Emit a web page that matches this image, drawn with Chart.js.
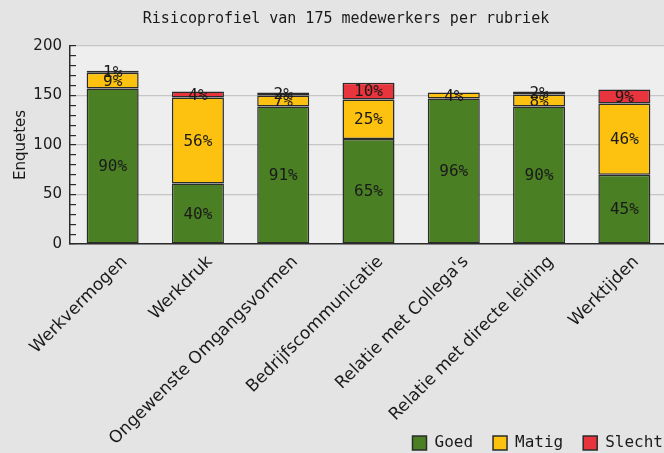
<!DOCTYPE html>
<html>
<head>
<meta charset="utf-8">
<script src="https://cdn.jsdelivr.net/npm/chart.js@4"></script>
<style>
html,body{margin:0;padding:0;background:#e4e4e4;overflow:hidden;}
#wrap{width:692px;height:453px;}
</style>
</head>
<body>
<div id="wrap"><canvas id="c" width="692" height="453"></canvas></div>
<script>
const categories = ["Werkvermogen","Werkdruk","Ongewenste Omgangsvormen","Bedrijfscommunicatie","Relatie met Collega's","Relatie met directe leiding","Werktijden"];
const goed   = [157, 61, 139, 106, 147, 139, 70];
const matig  = [16, 87, 11, 40, 6, 12, 72];
const slecht = [2, 6, 3, 17, 0, 3, 14];
const seriesNames = ["Goed","Matig","Slecht"];
const yTicks = [0, 50, 100, 150, 200];

const MONO = "'DejaVu Sans Mono', 'Liberation Mono', monospace";
const SANS = "'DejaVu Sans', 'Liberation Sans', sans-serif";

const totals = categories.map((_, i) => goed[i] + matig[i] + slecht[i]);

const bgPlugin = {
  id: 'bg',
  beforeDraw(chart) {
    const {ctx, chartArea: a} = chart;
    ctx.save();
    ctx.fillStyle = '#e4e4e4';
    ctx.fillRect(0, 0, chart.width, chart.height);
    ctx.fillStyle = '#eeeeee';
    ctx.fillRect(a.left, a.top, a.right - a.left, a.bottom - a.top);
    ctx.restore();
  }
};

// let the rotated x labels use the space beside the legend, and put the legend at the bottom right
const placePlugin = {
  id: 'place',
  afterLayout(chart) {
    const x = chart.scales.x;
    x.bottom = chart.height;
    x.height = x.bottom - x.top;
    const lg = chart.legend;
    const h = lg.height;
    lg.top = 415;
    lg.bottom = 415 + h;
    lg.right -= 9;
    lg.left -= 9;
  }
};

const pctPlugin = {
  id: 'pct',
  afterDatasetsDraw(chart) {
    const ctx = chart.ctx;
    ctx.save();
    ctx.font = "16px " + MONO;
    ctx.fillStyle = '#1a1a1a';
    ctx.textAlign = 'center';
    ctx.textBaseline = 'middle';
    chart.data.datasets.forEach((ds, di) => {
      const meta = chart.getDatasetMeta(di);
      meta.data.forEach((el, i) => {
        const v = ds.data[i];
        if (!v) return;
        const p = Math.round(v / totals[i] * 100);
        const y = (el.y + el.base) / 2;
        ctx.fillText(p + '%', el.x, y + 1);
      });
    });
    ctx.restore();
  }
};

const mk = (label, data, color) => ({
  label, data, backgroundColor: color, borderColor: '#2b2b2b', borderWidth: 1.5,
  borderSkipped: false, barPercentage: 0.61, categoryPercentage: 1
});

new Chart(document.getElementById('c'), {
  type: 'bar',
  data: {
    labels: categories,
    datasets: [
      mk(seriesNames[0], goed, '#4a7f24'),
      mk(seriesNames[1], matig, '#fdc20f'),
      mk(seriesNames[2], slecht, '#e8343c')
    ]
  },
  options: {
    responsive: false,
    animation: false,
    layout: {padding: {left: 0, right: 0, top: 0, bottom: 0}},
    plugins: {
      title: {
        display: true, text: 'Risicoprofiel van 175 medewerkers per rubriek',
        color: '#1a1a1a',
        font: {family: MONO, size: 15, weight: 'normal'},
        padding: {top: 10, bottom: 18}
      },
      legend: {
        position: 'bottom', align: 'end',
        labels: {
          boxWidth: 14, boxHeight: 14, padding: 20, color: '#1a1a1a',
          font: {family: MONO, size: 16}
        }
      },
      tooltip: {enabled: false}
    },
    scales: {
      x: {
        stacked: true,
        grid: {display: false},
        border: {display: true, color: '#2b2b2b', width: 1.5},
        ticks: {
          color: '#1a1a1a', font: {family: SANS, size: 17},
          minRotation: 45, maxRotation: 45, autoSkip: false,
          labelOffset: 12, padding: 0
        },
        afterFit(s) { s.height = 163; }
      },
      y: {
        stacked: true, min: 0, max: 200,
        grid: {
          color: ctx => (ctx.tick && ctx.tick.value % 50 === 0) ? '#c6c6c6' : 'rgba(0,0,0,0)',
          tickColor: '#2b2b2b', tickLength: -6, lineWidth: 1.2, tickWidth: 1.2
        },
        border: {display: true, color: '#2b2b2b', width: 1.5},
        ticks: {
          stepSize: 10, autoSkip: false, padding: 14,
          color: '#1a1a1a', font: {family: SANS, size: 15},
          callback: v => yTicks.includes(v) ? String(v) : ''
        },
        title: {
          display: true, text: 'Enquetes', color: '#1a1a1a',
          font: {family: SANS, size: 15}, padding: {top: 12, bottom: 0}
        },
        afterFit(s) { s.width = 70; }
      },
      yRight: {
        position: 'right', display: true,
        grid: {display: false}, border: {display: false},
        ticks: {display: false},
        afterFit(s) { s.width = 25; }
      }
    }
  },
  plugins: [bgPlugin, placePlugin, pctPlugin]
});
</script>
</body>
</html>
